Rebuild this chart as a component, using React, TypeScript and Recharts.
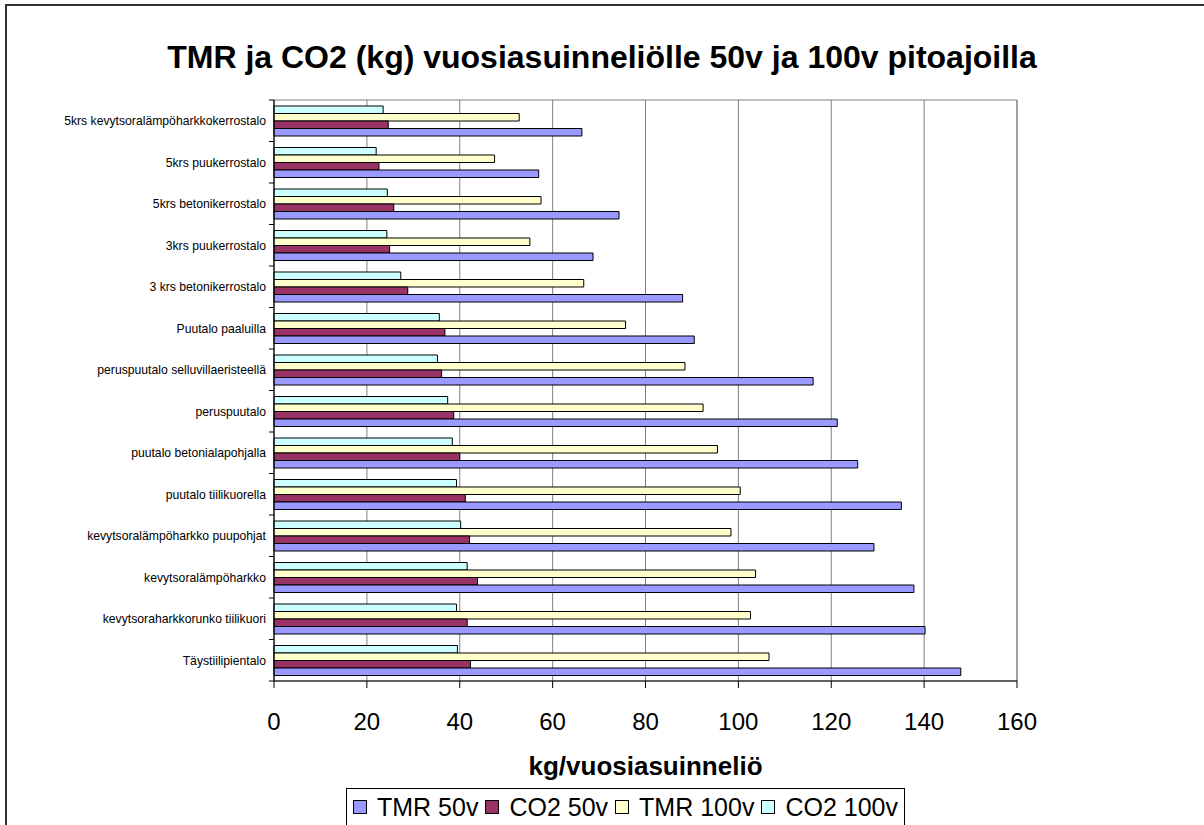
import { BarChart, Bar, XAxis, YAxis, CartesianGrid, ReferenceArea } from "recharts";

// Rakennustyypit, ylhäältä alas
const categories = [
  "5krs kevytsoralämpöharkkokerrostalo",
  "5krs puukerrostalo",
  "5krs betonikerrostalo",
  "3krs puukerrostalo",
  "3 krs betonikerrostalo",
  "Puutalo paaluilla",
  "peruspuutalo selluvillaeristeellä",
  "peruspuutalo",
  "puutalo betonialapohjalla",
  "puutalo tiilikuorella",
  "kevytsoralämpöharkko puupohjat",
  "kevytsoralämpöharkko",
  "kevytsoraharkkorunko tiilikuori",
  "Täystiilipientalo",
];

const tmr50 = [66.3, 57.0, 74.3, 68.7, 88.0, 90.5, 116.1, 121.3, 125.7, 135.1, 129.2, 137.8, 140.2, 147.9];
const co250 = [24.6, 22.6, 25.8, 24.9, 28.8, 36.8, 36.1, 38.7, 40.0, 41.2, 42.1, 43.8, 41.6, 42.3];
const tmr100 = [52.8, 47.5, 57.5, 55.1, 66.7, 75.7, 88.5, 92.4, 95.5, 100.4, 98.4, 103.7, 102.6, 106.6];
const co2100 = [23.5, 22.0, 24.4, 24.3, 27.3, 35.6, 35.2, 37.4, 38.4, 39.3, 40.2, 41.6, 39.3, 39.5];

const xTicks = [0, 20, 40, 60, 80, 100, 120, 140, 160];

// legend order (Excel draws the bars in reverse)
const series = [
  { key: "tmr50", name: "TMR 50v", color: "#9999FF" },
  { key: "co250", name: "CO2 50v", color: "#993366" },
  { key: "tmr100", name: "TMR 100v", color: "#FFFFCC" },
  { key: "co2100", name: "CO2 100v", color: "#CCFFFF" },
];

const data = categories.map((name, i) => ({
  name,
  tmr50: tmr50[i],
  co250: co250[i],
  tmr100: tmr100[i],
  co2100: co2100[i],
}));

const FONT = "'Liberation Sans', Arial, sans-serif";

function CategoryTick(props: any) {
  const { x, y, payload, index, visibleTicksCount } = props;
  const half = payload?.offset ?? 20.75;
  const isLast = index === visibleTicksCount - 1;
  return (
    <g>
      <line x1={x - 5} x2={x} y1={y - half} y2={y - half} stroke="#000" />
      {isLast && <line x1={x - 5} x2={x} y1={y + half} y2={y + half} stroke="#000" />}
      <text x={x - 8} y={y} dy="0.35em" textAnchor="end" fontSize={12.2} fill="#000" fontFamily={FONT}>
        {payload.value}
      </text>
    </g>
  );
}

export default function App() {
  const drawn = [...series].reverse();
  return (
    <div style={{ position: "relative", width: 1204, height: 825, overflow: "hidden", background: "#fff", fontFamily: FONT }}>
      <style>{"body{margin:0;overflow:hidden}"}</style>
      <div style={{ position: "absolute", left: 5, top: 4, width: 1197, height: 821, borderTop: "2px solid #333", borderLeft: "2px solid #333" }} />
      <div style={{ position: "absolute", left: 0, top: 41, width: 1204, textAlign: "center", fontSize: 32, fontWeight: "bold", lineHeight: "32px", color: "#000" }}>
        TMR ja CO2 (kg) vuosiasuinneliölle 50v ja 100v pitoajoilla
      </div>
      <div style={{ position: "absolute", left: 0, top: 0 }}>
        <BarChart
          width={1204}
          height={825}
          data={data}
          layout="vertical"
          margin={{ top: 100, right: 187, bottom: 0, left: 0 }}
          barGap={0}
        >
          <CartesianGrid horizontal={false} stroke="#808080" />
          <ReferenceArea x1={0} x2={160} stroke="#808080" fill="none" />
          <XAxis
            type="number"
            domain={[0, 160]}
            ticks={xTicks}
            interval={0}
            height={144}
            tickSize={7}
            tickMargin={25}
            stroke="#000"
            tick={{ fontSize: 24, fill: "#000", fontFamily: FONT }}
          />
          <YAxis
            type="category"
            dataKey="name"
            width={274}
            interval={0}
            tickSize={0}
            tickMargin={0}
            tickLine={false}
            stroke="#000"
            tick={<CategoryTick />}
          />
          {drawn.map((s) => (
            <Bar
              key={s.key}
              dataKey={s.key}
              name={s.name}
              fill={s.color}
              stroke="#000"
              strokeWidth={1}
              barSize={7.5}
              isAnimationActive={false}
            />
          ))}
        </BarChart>
      </div>
      <div style={{ position: "absolute", left: 274, width: 743, top: 753, textAlign: "center", fontSize: 26, fontWeight: "bold", lineHeight: "26px", color: "#000" }}>
        kg/vuosiasuinneliö
      </div>
      <div
        style={{
          position: "absolute",
          left: 346,
          top: 788,
          border: "1px solid #000",
          padding: "5px 6px 12px 6px",
          display: "flex",
          alignItems: "flex-start",
          fontSize: 25,
          lineHeight: "26px",
          color: "#000",
          background: "#fff",
        }}
      >
        {series.map((s, i) => (
          <div key={s.key} style={{ display: "flex", alignItems: "center", marginRight: i < series.length - 1 ? 7 : 0, height: 26 }}>
            <span style={{ display: "inline-block", width: 12, height: 12, border: "1px solid #000", background: s.color, marginRight: 10 }} />
            <span>{s.name}</span>
          </div>
        ))}
      </div>
    </div>
  );
}
